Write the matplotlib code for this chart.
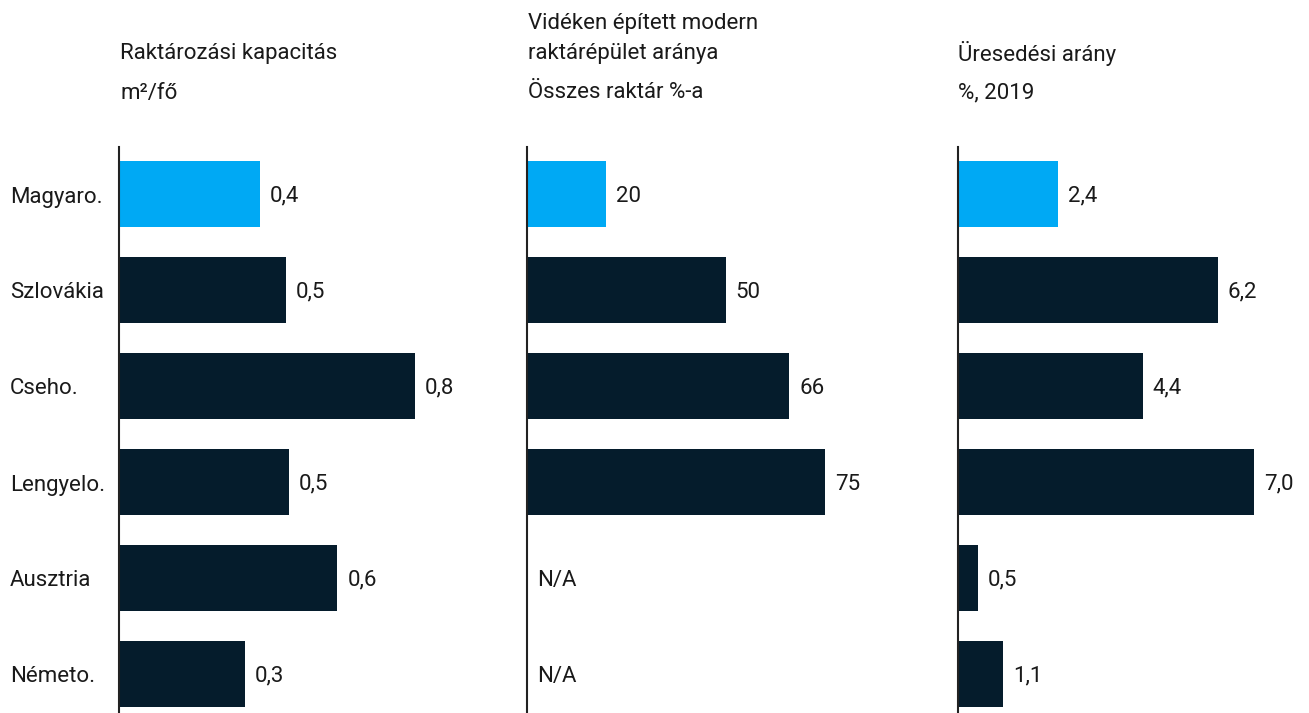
import matplotlib.pyplot as plt

plt.rcParams['font.family'] = ['Roboto', 'DejaVu Sans']

countries = ["Magyaro.", "Szlovákia", "Cseho.", "Lengyelo.", "Ausztria", "Németo."]

capacity = [0.38, 0.45, 0.80, 0.46, 0.59, 0.34]
capacity_labels = ["0,4", "0,5", "0,8", "0,5", "0,6", "0,3"]

rural_share = [20, 50, 66, 75, None, None]
rural_labels = ["20", "50", "66", "75", "N/A", "N/A"]

vacancy = [2.36, 6.15, 4.37, 7.0, 0.47, 1.06]
vacancy_labels = ["2,4", "6,2", "4,4", "7,0", "0,5", "1,1"]

BLUE = "#00A9F4"
DARK = "#051C2C"
TXT = "#1a1a1a"
W, H = 1309, 713
FS = 16

fig = plt.figure(figsize=(W / 100, H / 100), dpi=100)


def panel(x0, width, xmax, values, labels):
    ax = fig.add_axes([x0 / W, 0, width / W, (H - 147) / H])
    ys = range(len(values))
    for i, v in zip(ys, values):
        if v is None:
            ax.annotate(labels[i], (0, i), xytext=(10, -2), textcoords="offset pixels",
                        va="center", ha="left", fontsize=FS, color=TXT)
            continue
        ax.barh(i, v, height=0.6875, color=BLUE if i == 0 else DARK)
        ax.annotate(labels[i], (v, i), xytext=(10, -2), textcoords="offset pixels",
                    va="center", ha="left", fontsize=FS, color=TXT)
    ax.set_xlim(0, xmax)
    ax.set_ylim(5.406, -0.49)
    for s in ["top", "right", "bottom"]:
        ax.spines[s].set_visible(False)
    ax.spines["left"].set_linewidth(1.5)
    ax.spines["left"].set_color("#222222")
    ax.set_xticks([])
    ax.set_yticks([])
    return ax


ax1 = panel(119, 370, 1.0, capacity, capacity_labels)
ax2 = panel(527, 397, 100, rural_share, rural_labels)
ax3 = panel(958, 338, 8.0, vacancy, vacancy_labels)

for i, c in enumerate(countries):
    fig.text(10 / W, 1 - (197 + 96 * i) / H, c, va="center", ha="left", fontsize=FS, color=TXT)

def head(x, y, s):
    fig.text(x / W, 1 - y / H, s, va="center", ha="left", fontsize=FS, color=TXT)

head(120, 54, "Raktározási kapacitás")
head(120, 93, "m²/fő")
head(528, 24, "Vidéken épített modern")
head(528, 54, "raktárépület aránya")
head(528, 93, "Összes raktár %-a")
head(958, 54, "Üresedési arány")
head(958, 93, "%, 2019")

fig.savefig("out.png", dpi=100)
